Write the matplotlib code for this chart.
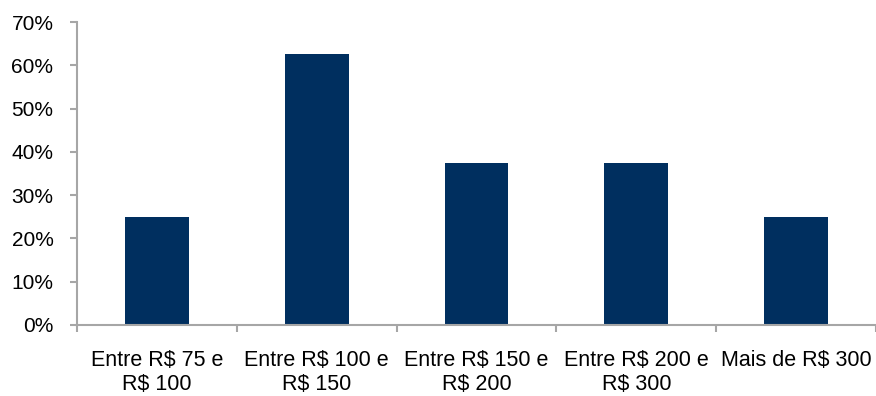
import matplotlib
matplotlib.use("Agg")
import matplotlib.pyplot as plt
import numpy as np
from matplotlib.ticker import FixedLocator, FuncFormatter

plt.rcParams['font.family'] = ['Liberation Sans', 'DejaVu Sans']

categories = ["Entre R$ 75 e\nR$ 100", "Entre R$ 100 e\nR$ 150", "Entre R$ 150 e\nR$ 200",
              "Entre R$ 200 e\nR$ 300", "Mais de R$ 300"]
shares = [0.25, 0.625, 0.375, 0.375, 0.25]
y_ticks = [0.0, 0.1, 0.2, 0.3, 0.4, 0.5, 0.6, 0.7]

bar_color = "#002F5F"
axis_color = "#A6A6A6"

fig = plt.figure(figsize=(8.76, 3.96), dpi=100)
ax = fig.add_axes([77 / 876, 1 - 325 / 396, 799 / 876, (325 - 22) / 396])

x = np.arange(len(categories))
ax.bar(x, shares, width=0.4, color=bar_color, zorder=2)

ax.set_xlim(-0.5, len(categories) - 0.5)
ax.set_ylim(0, 0.7)

ax.yaxis.set_major_locator(FixedLocator(y_ticks))
ax.yaxis.set_major_formatter(FuncFormatter(lambda v, _: f"{v * 100:.0f}%"))

# boundary ticks between categories, labels centred under each bar
ax.xaxis.set_major_locator(FixedLocator(np.arange(len(categories) + 1) - 0.5))
ax.xaxis.set_major_formatter(FuncFormatter(lambda v, _: ""))
ax.xaxis.set_minor_locator(FixedLocator(x))
ax.set_xticklabels(categories, minor=True)

for side in ("top", "right"):
    ax.spines[side].set_visible(False)
for side in ("left", "bottom"):
    ax.spines[side].set_color(axis_color)
    ax.spines[side].set_linewidth(1.5)

ax.tick_params(axis="y", which="major", length=5, width=1.5, color=axis_color,
               labelsize=15, pad=12, labelcolor="black")
ax.tick_params(axis="x", which="major", length=5, width=1.5, color=axis_color, direction="out")
ax.tick_params(axis="x", which="minor", length=0, labelsize=15.5, pad=18, labelcolor="black")
for lbl in ax.get_xticklabels(minor=True):
    lbl.set_linespacing(1.2)

fig.savefig("out.png", dpi=100)
